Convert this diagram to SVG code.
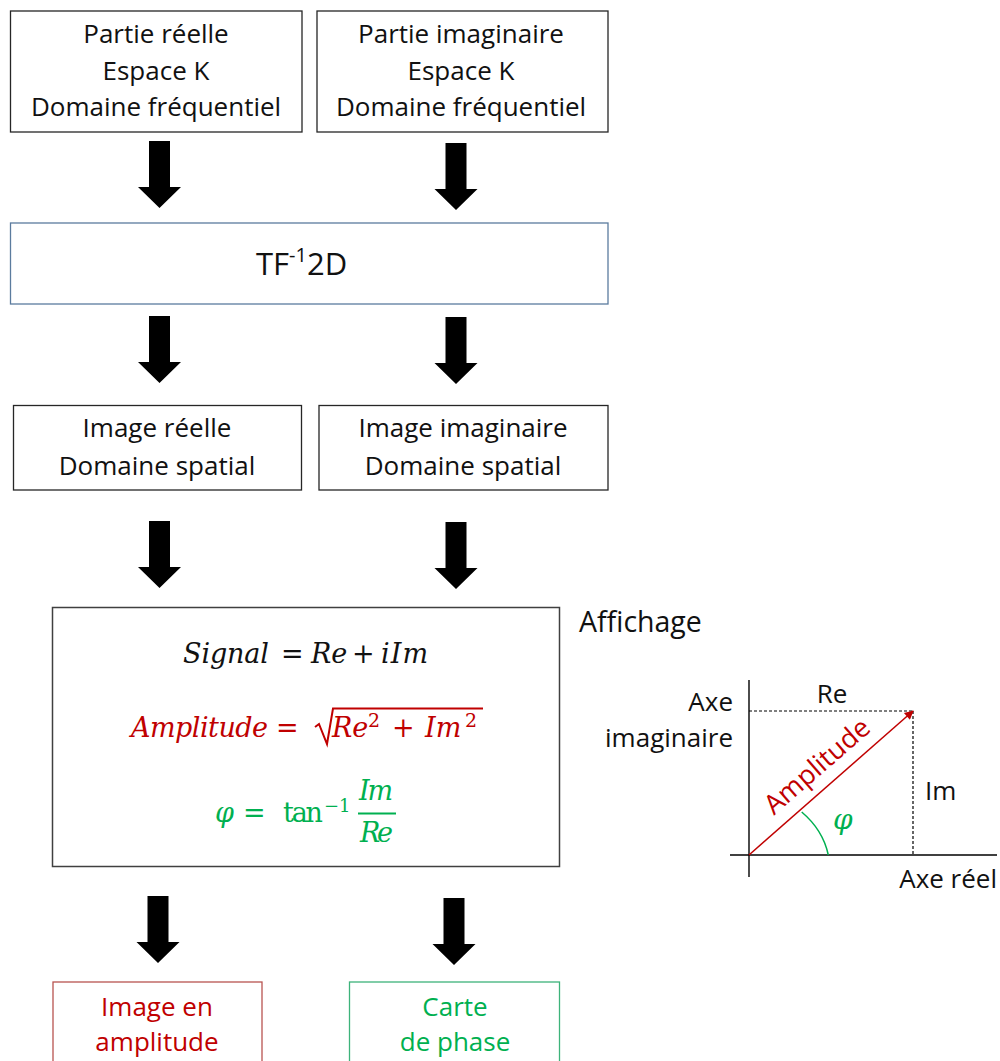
<svg xmlns="http://www.w3.org/2000/svg" width="1000" height="1061" viewBox="0 0 1000 1061">
<style>
.box{fill:#fff;stroke:#262626;stroke-width:1.3}
.t{font-family:"Open Sans","Liberation Sans",sans-serif;font-size:26px;fill:#111;text-anchor:middle}
.m{font-family:"DejaVu Serif","Liberation Serif",serif;font-style:italic;font-size:27px}
.u{font-style:normal}
.red{fill:#C00000}
.grn{fill:#00B050}
.ax{stroke:#000;stroke-width:1.4;fill:none}
.dash{stroke:#000;stroke-width:1.2;stroke-dasharray:3 2;fill:none}
</style>
<defs>
<path id="barrow" d="M-10.5,0 H10.5 V46 H21.5 L0,67 L-21.5,46 H-10.5 Z" fill="#000"/>
<marker id="redhead" viewBox="0 0 10 10" refX="9" refY="5" markerWidth="11" markerHeight="9" orient="auto" markerUnits="userSpaceOnUse">
<path d="M0,0 L10,5 L0,10 Z" fill="#C00000"/>
</marker>
</defs>
<rect width="1000" height="1061" fill="#fff"/>

<g id="connectors">
<use href="#barrow" transform="translate(159.5,141)"/>
<use href="#barrow" transform="translate(456,143)"/>
<use href="#barrow" transform="translate(159.5,316)"/>
<use href="#barrow" transform="translate(456,317)"/>
<use href="#barrow" transform="translate(159.5,521)"/>
<use href="#barrow" transform="translate(456,522)"/>
<use href="#barrow" transform="translate(158,896)"/>
<use href="#barrow" transform="translate(454,898)"/>
</g>

<g id="partie-reelle">
<rect class="box" x="10.5" y="11" width="291.5" height="121"/>
<text class="t" x="156" y="43">Partie réelle</text>
<text class="t" x="156" y="80">Espace K</text>
<text class="t" x="156" y="116">Domaine fréquentiel</text>
</g>
<g id="partie-imaginaire">
<rect class="box" x="317" y="11" width="291" height="121"/>
<text class="t" x="461" y="43">Partie imaginaire</text>
<text class="t" x="461" y="80">Espace K</text>
<text class="t" x="461" y="116">Domaine fréquentiel</text>
</g>

<g id="tf2d">
<rect x="10.5" y="223" width="597.5" height="81" fill="#fff" stroke="#5B7B9E" stroke-width="1.3"/>
<text class="t" x="256" y="275" style="font-size:31px;text-anchor:start">TF<tspan dy="-13" style="font-size:20px">-1</tspan><tspan dy="13">2D</tspan></text>
</g>

<g id="image-reelle">
<rect class="box" x="13.5" y="405.5" width="288" height="84.5"/>
<text class="t" x="157" y="437">Image réelle</text>
<text class="t" x="157" y="475">Domaine spatial</text>
</g>
<g id="image-imaginaire">
<rect class="box" x="319" y="405.5" width="289" height="84.5"/>
<text class="t" x="463" y="437">Image imaginaire</text>
<text class="t" x="463" y="475">Domaine spatial</text>
</g>

<g id="formules">
<rect x="52.5" y="607.5" width="507" height="259" fill="#fff" stroke="#404040" stroke-width="1.5"/>
<text class="m" y="663" fill="#111"><tspan x="183" textLength="86">Signal</tspan><tspan class="u" x="281">=</tspan><tspan x="311">Re</tspan><tspan class="u" x="352">+</tspan><tspan x="381" textLength="47">iIm</tspan></text>
<text class="m red" y="737"><tspan x="131" textLength="137">Amplitude</tspan><tspan class="u" x="276">=</tspan><tspan x="332">Re</tspan><tspan x="368" y="727" style="font-size:19px" class="u">2</tspan><tspan class="u" x="392" y="737">+</tspan><tspan x="425">Im</tspan><tspan x="465" y="727" style="font-size:19px" class="u">2</tspan></text>
<polyline points="315,727 319,724 327,744 333,708.5 483,708.5" fill="none" stroke="#C00000" stroke-width="2"/>
<text class="m grn" y="822"><tspan x="215">φ</tspan><tspan class="u" x="243">=</tspan><tspan class="u" x="283" textLength="40">tan</tspan><tspan class="u" x="324" y="812" style="font-size:18px">−1</tspan></text>
<text class="m grn" x="359" y="800" textLength="34">Im</text>
<line x1="358" y1="813.5" x2="396" y2="813.5" stroke="#00B050" stroke-width="1.8"/>
<text class="m grn" x="360" y="842" textLength="33">Re</text>
</g>

<g id="affichage">
<text class="t" x="579" y="632" style="text-anchor:start;font-size:28.5px">Affichage</text>
<line class="ax" x1="749" y1="680" x2="749" y2="877"/>
<line class="ax" x1="730" y1="855" x2="997" y2="855"/>
<path class="dash" d="M749,711 H913 M913,711 V855"/>
<line x1="749" y1="855" x2="913" y2="711" stroke="#C00000" stroke-width="1.5" marker-end="url(#redhead)"/>
<path d="M801.7,812 Q823,830 828.3,855" fill="none" stroke="#00B050" stroke-width="1.5"/>
<text class="m grn" x="833" y="829" style="font-size:28px">φ</text>
<text class="t" transform="translate(823,773) rotate(-41)" style="fill:#C00000;font-size:27px">Amplitude</text>
<text class="t" x="733" y="711" style="text-anchor:end">Axe</text>
<text class="t" x="733" y="747" style="text-anchor:end">imaginaire</text>
<text class="t" x="832" y="703">Re</text>
<text class="t" x="925" y="800" style="text-anchor:start">Im</text>
<text class="t" x="997" y="888" style="text-anchor:end">Axe réel</text>
</g>

<g id="image-amplitude">
<rect x="53" y="982" width="209" height="100" fill="#fff" stroke="#B85450" stroke-width="1.3"/>
<text class="t" x="157" y="1016" style="fill:#C00000">Image en</text>
<text class="t" x="157" y="1051" style="fill:#C00000">amplitude</text>
</g>
<g id="carte-phase">
<rect x="349.5" y="982" width="210" height="100" fill="#fff" stroke="#3DB37A" stroke-width="1.3"/>
<text class="t" x="455" y="1016" style="fill:#00B050">Carte</text>
<text class="t" x="455" y="1051" style="fill:#00B050">de phase</text>
</g>
</svg>
